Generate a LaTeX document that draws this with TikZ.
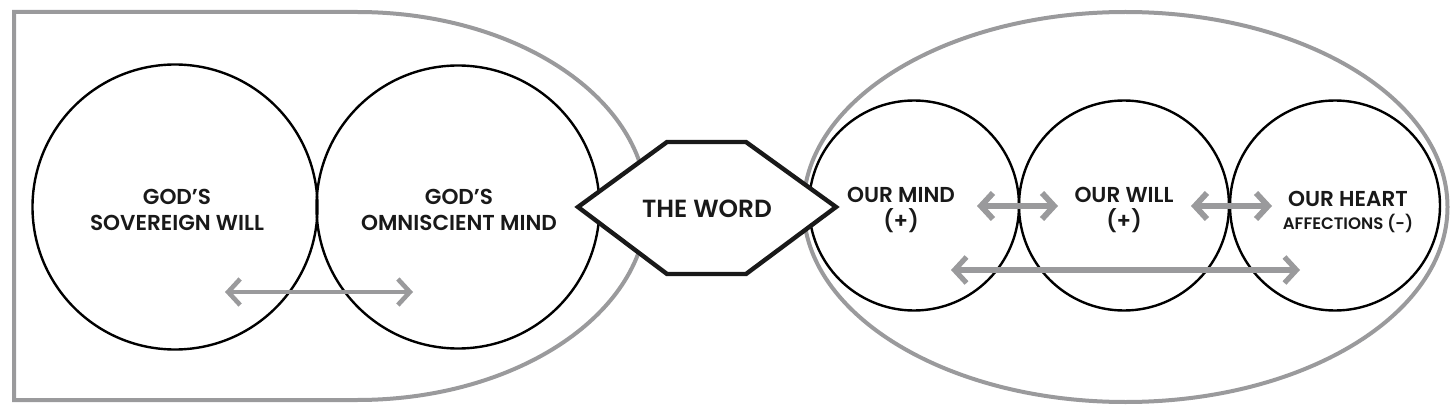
\documentclass[tikz,border=0pt]{standalone}
\usepackage{fontspec}
\setmainfont{Poppins}[BoldFont={Poppins SemiBold}]
\usetikzlibrary{arrows.meta}
\definecolor{outergray}{HTML}{9A9A9C}
\definecolor{arrgray}{HTML}{9A9A9C}
\tikzset{
  outer/.style={draw=outergray, line width=2pt},
  circ/.style={circle, draw=black, line width=1.2pt, inner sep=0pt},
  lbl/.style={align=center, font=\fontsize{10.8}{13}\selectfont\bfseries, text=black!90},
  small/.style={font=\fontsize{8.3}{10}\selectfont\bfseries, text=black!90},
  hex/.style={draw=black!90, line width=2.2pt, fill=white, line join=miter},
  twoway/.style={draw=arrgray, line width=2.3pt,
    {Straight Barb[length=6pt,width=13pt]}-{Straight Barb[length=6pt,width=13pt]}},
  twowayb/.style={twoway, line width=2.9pt}
}
\begin{document}
\begin{tikzpicture}[x=0.5pt,y=0.5pt]
\useasboundingbox (0,0) rectangle (1456,413);
% outer containers
\draw[outer] (14,401) -- (357,401)
   arc[start angle=90,end angle=-90,x radius=290,y radius=194] -- (14,13) -- cycle;
\draw[outer] (1125.5,206) ellipse [x radius=322, y radius=195];
% left circles
\node[circ, minimum size=142.5pt] (will) at (175,206) {};
\node[circ, minimum size=141.5pt] (mind) at (458,206) {};
\node[lbl] (willtxt) at (177,203) {GOD’S\\SOVEREIGN WILL};
\node[lbl] (mindtxt) at (459,203) {GOD’S\\OMNISCIENT MIND};
% right circles
\node[circ, minimum size=105pt] (omind) at (914,207.5) {};
\node[circ, minimum size=105pt] (owill) at (1124,207.5) {};
\node[circ, minimum size=105pt] (oheart) at (1335,207.5) {};
\node[lbl] (omindtxt) at (901,203) {OUR MIND\\(+)};
\node[lbl] (owilltxt) at (1124,203) {OUR WILL\\(+)};
\node[lbl] (ohearttxt) at (1348,214) {OUR HEART};
\node[small] (afftxt) at (1348,190) {AFFECTIONS (-)};
% the word
\draw[hex] (578,206) -- (667,271) -- (746,271) -- (836,206) -- (746,139) -- (667,139) -- cycle;
\node[font=\fontsize{12.4}{14}\selectfont\bfseries, text=black!90] (word) at (707,204) {THE WORD};
% arrows
\coordinate (a1) at (225,121); \coordinate (a2) at (413,121);
\coordinate (b1) at (977,207); \coordinate (b2) at (1058,207);
\coordinate (c1) at (1191,207); \coordinate (c2) at (1272,207);
\coordinate (d1) at (951,143); \coordinate (d2) at (1300,143);
\draw[twoway] (a1) -- (a2);
\draw[twowayb] (b1) -- (b2);
\draw[twowayb] (c1) -- (c2);
\draw[twoway, line width=2.6pt] (d1) -- (d2);
\end{tikzpicture}
\end{document}
